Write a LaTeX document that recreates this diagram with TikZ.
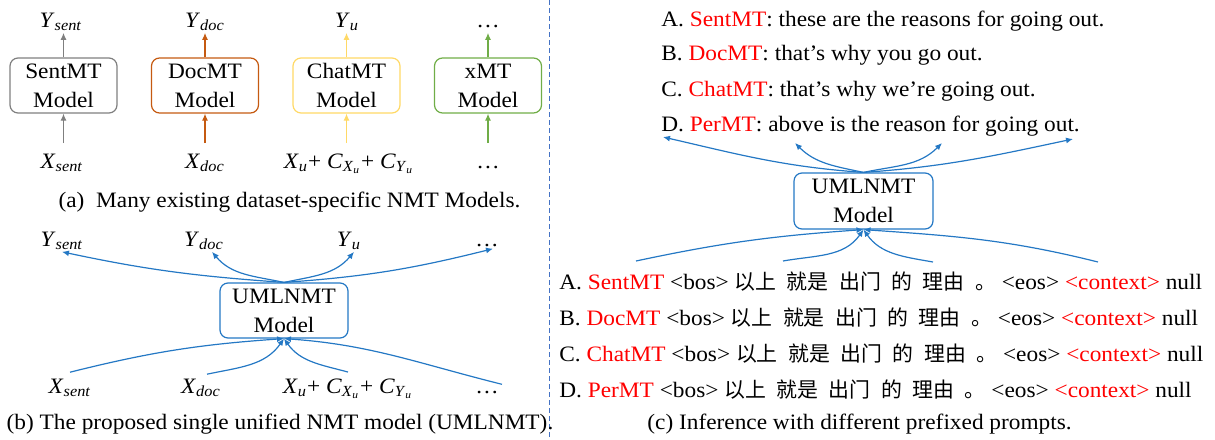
\documentclass[tikz,border=0pt]{standalone}
\usepackage{fontspec}
\setmainfont{Liberation Serif}[FakeStretch=1.06]
\newfontfamily\cjk{Noto Sans CJK SC}[Scale=0.95]
\usetikzlibrary{arrows.meta,positioning}

\definecolor{sentgray}{HTML}{7F7F7F}
\definecolor{docorange}{HTML}{C55A11}
\definecolor{chatyellow}{HTML}{FFD966}
\definecolor{xgreen}{HTML}{70AD47}
\definecolor{umlblue}{HTML}{2478C4}
\definecolor{sepblue}{HTML}{4472C4}

\newcommand{\vsub}[2]{\textit{#1}\textsubscript{\textit{#2}}}
\newcommand{\ctxin}{\vsub{X}{u}+ \textit{C}\textsubscript{\vsub{X}{u}}+ \textit{C}\textsubscript{\vsub{Y}{u}}}
\newcommand{\tagred}[1]{\textcolor{red}{#1}}
\newcommand{\zg}{\hskip 0.5em}
\newcommand{\zhline}{<bos> {\cjk 以上\zg 就是\zg 出门\zg 的\zg 理由\zg 。} <eos> \tagred{<context>} null}

\tikzset{
  every node/.style={font=\fontsize{11}{14.5}\selectfont},
  modelbox/.style={draw, rounded corners=4pt, minimum width=53.5pt, minimum height=27.5pt,
    align=center, inner sep=1pt, line width=0.6pt},
  lbl/.style={anchor=base, inner sep=1pt},
  txt/.style={anchor=base west, inner sep=0pt},
  arr/.style={-{Latex[length=3.5pt,width=3pt]}, line width=0.6pt},
  uarr/.style={arr, umlblue},
}

\begin{document}
\begin{tikzpicture}[x=0.5pt, y=0.5pt]
  \useasboundingbox (0,0) rectangle (1215,-439);

  % (a) one model per dataset
  \node[modelbox, draw=sentgray] (senta) at (63.5,-85.5) {SentMT\\Model};
  \node[modelbox, draw=docorange] (doca) at (205,-85.5) {DocMT\\Model};
  \node[modelbox, draw=chatyellow] (chata) at (346.5,-85.5) {ChatMT\\Model};
  \node[modelbox, draw=xgreen] (xa) at (488,-85.5) {xMT\\Model};
  \node[lbl] (ysenta) at (61,-27) {\vsub{Y}{sent}};
  \node[lbl] (ydoca) at (205,-27) {\vsub{Y}{doc}};
  \node[lbl] (yua) at (347,-27) {\vsub{Y}{u}};
  \node[lbl] (youta) at (488,-27) {\ldots};
  \node[lbl] (xsenta) at (62,-168) {\vsub{X}{sent}};
  \node[lbl] (xdoca) at (205,-168) {\vsub{X}{doc}};
  \node[lbl] (xua) at (349,-168) {\ctxin};
  \node[lbl] (xina) at (488,-168) {\ldots};
  \draw[arr, sentgray] ([yshift=4pt]senta.south |- xsenta.north) -- (senta.south);
  \draw[arr, sentgray] (senta.north) -- (senta.north |- ysenta.south);
  \draw[arr, docorange] ([yshift=4pt]doca.south |- xdoca.north) -- (doca.south);
  \draw[arr, docorange] (doca.north) -- (doca.north |- ydoca.south);
  \draw[arr, chatyellow] ([yshift=4pt]chata.south |- xua.north) -- (chata.south);
  \draw[arr, chatyellow] (chata.north) -- (chata.north |- ysenta.south);
  \draw[arr, xgreen] ([yshift=4pt]xa.south |- xsenta.north) -- (xa.south);
  \draw[arr, xgreen] (xa.north) -- (xa.north |- ysenta.south);
  \node[lbl] (capa) at (289.5,-207) {(a)\ \ Many existing dataset-specific NMT Models.};

  % separator
  \draw[sepblue, dash pattern=on 2.5pt off 1.5pt, line width=0.4pt] (549,0) -- (549,-439);

  % (b) one unified model
  \node[modelbox, draw=umlblue, minimum width=64pt] (umlb) at (284,-310.5) {UMLNMT\\Model};
  \node[lbl] (ysentb) at (62,-246) {\vsub{Y}{sent}};
  \node[lbl] (ydocb) at (204,-246) {\vsub{Y}{doc}};
  \node[lbl] (yub) at (349,-246) {\vsub{Y}{u}};
  \node[lbl] (youtb) at (487,-246) {\ldots};
  \draw[uarr] (umlb.north) to[out=176, in=-12] (ysentb.south);
  \draw[uarr] (umlb.north) to[out=168, in=-50] ([xshift=4pt]ydocb.south);
  \draw[uarr] (umlb.north) to[out=12, in=-130] ([xshift=2.5pt]yub.south);
  \draw[uarr] (umlb.north) to[out=4, in=194] ([xshift=3pt]youtb.south);
  \node[lbl] (xsentb) at (70,-393) {\vsub{X}{sent}};
  \node[lbl] (xdocb) at (201,-393) {\vsub{X}{doc}};
  \node[lbl] (xub) at (348,-393) {\ctxin};
  \node[lbl] (xinb) at (487,-393) {\ldots};
  \draw[uarr] ([yshift=2pt]xsentb.north) to[out=14, in=184] (umlb.south);
  \draw[uarr] ([xshift=3pt, yshift=1pt]xdocb.north) to[out=12, in=-125] (umlb.south);
  \draw[uarr] ([yshift=2pt]xub.north) to[out=165, in=-55] (umlb.south);
  \draw[uarr] ([xshift=7.5pt, yshift=2pt]xinb.north) to[out=166, in=-4] (umlb.south);
  \node[lbl] (capb) at (280,-429) {(b) The proposed single unified NMT model (UMLNMT).};

  % (c) inference with prompts
  \node[txt] (outA) at (661,-26) {A. \tagred{SentMT}: these are the reasons for going out.};
  \node[txt] (outB) at (661,-61) {B. \tagred{DocMT}: that's why you go out.};
  \node[txt] (outC) at (661,-96) {C. \tagred{ChatMT}: that's why we're going out.};
  \node[txt] (outD) at (661,-131) {D. \tagred{PerMT}: above is the reason for going out.};
  \node[modelbox, draw=umlblue, minimum width=69.5pt, minimum height=28pt] (umlc) at (863.5,-201) {UMLNMT\\Model};
  \coordinate (tc1) at (663,-137);
  \coordinate (tc2) at (795,-143);
  \coordinate (tc3) at (942,-143);
  \coordinate (tc4) at (1073,-139);
  \draw[uarr] (umlc.north) to[out=176, in=-13] (tc1);
  \draw[uarr] (umlc.north) to[out=168, in=-45] (tc2);
  \draw[uarr] (umlc.north) to[out=12, in=-135] (tc3);
  \draw[uarr] (umlc.north) to[out=4, in=192] (tc4);
  \coordinate (bc1) at (636,-261);
  \coordinate (bc2) at (783,-261);
  \coordinate (bc3) at (933,-262);
  \coordinate (bc4) at (1098,-262);
  \draw[uarr] (bc1) to[out=12, in=184] (umlc.south);
  \draw[uarr] (bc2) to[out=10, in=-125] (umlc.south);
  \draw[uarr] (bc3) to[out=170, in=-55] (umlc.south);
  \draw[uarr] (bc4) to[out=166, in=-4] (umlc.south);
  \node[txt] (inA) at (559,-289) {A. \tagred{SentMT} \zhline};
  \node[txt] (inB) at (559,-325) {B. \tagred{DocMT} \zhline};
  \node[txt] (inC) at (559,-361) {C. \tagred{ChatMT} \zhline};
  \node[txt] (inD) at (559,-397) {D. \tagred{PerMT} \zhline};
  \node[txt] (capc) at (647,-429) {(c) Inference with different prefixed prompts.};
\end{tikzpicture}
\end{document}
